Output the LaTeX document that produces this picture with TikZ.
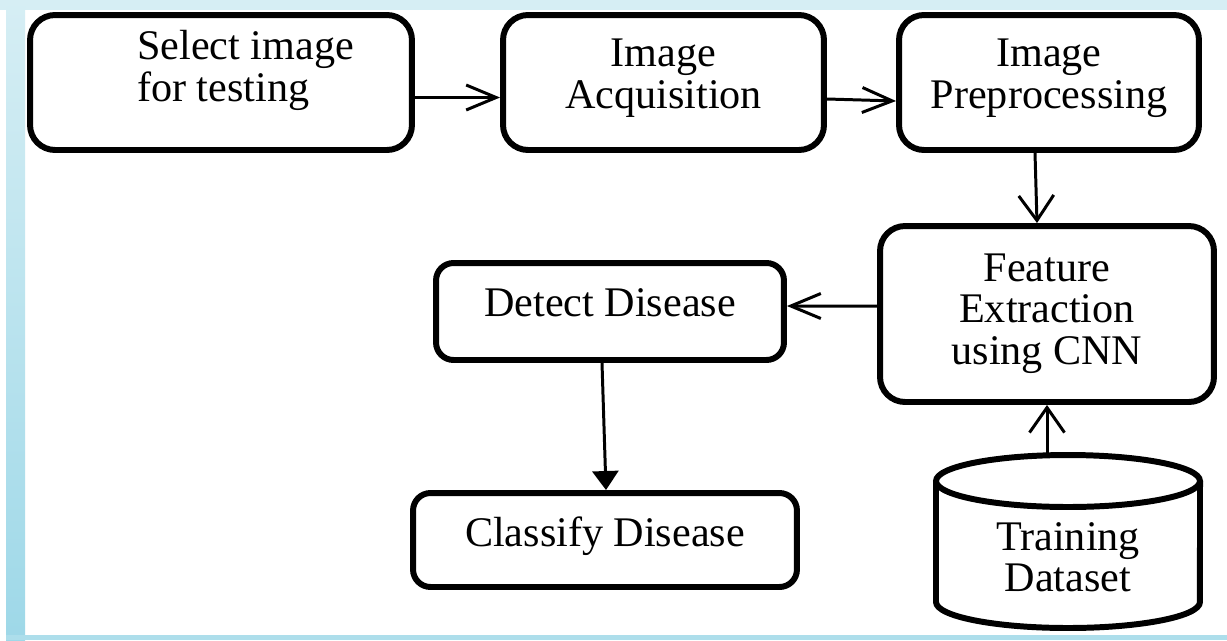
\documentclass[tikz,border=0pt]{standalone}
\usepackage{fontspec}
\setmainfont{Liberation Serif}
\usetikzlibrary{arrows.meta}
\definecolor{framelight}{HTML}{D6EEF4}
\definecolor{framedark}{HTML}{9ED8E8}

\begin{document}
\begin{tikzpicture}[x=0.02cm,y=-0.02cm]
        \tikzset{box/.style = {shape=rectangle,draw,line width=3.4pt,rounded corners=0.5cm,align=center,text depth=0.35cm,font=\fontsize{24}{23.5}\selectfont}}
        \tikzset{smallbox/.style = {box,rounded corners=0.35cm}}
        \tikzset{edge/.style = {-{Straight Barb[length=0.6cm,width=0.5cm]}, line width=1.7pt}}
        \tikzset{vedge/.style = {-{Straight Barb[length=0.5cm,width=0.7cm]}, line width=1.7pt}}
        % frame
        \useasboundingbox (0,0) rectangle (1227,640);
        \fill[white] (0,0) rectangle (1227,640);
        \fill[framelight] (0,0) rectangle (1227,10);
        \shade[top color=framelight, bottom color=framedark] (6,0) rectangle (25,640);
        \fill[framedark!85!white] (6,635) rectangle (1227,640);
        % vertices
        \node[box, minimum width=7.64cm, minimum height=2.7cm, align=left, text depth=0.67cm] (select) at (221,82.5) {\hspace*{0.98cm}Select image\\\hspace*{0.98cm}for testing};
        \node[box, minimum width=6.42cm, minimum height=2.7cm] (acq) at (663.5,82.5) {Image\\Acquisition};
        \node[box, minimum width=6.0cm, minimum height=2.7cm] (prep) at (1049,82.5) {Image\\Preprocessing};
        \node[box, minimum width=6.68cm, minimum height=3.52cm, text depth=0.2cm] (feat) at (1047,314) {Feature\\Extraction\\using CNN};
        \node[smallbox, minimum width=6.96cm, minimum height=1.94cm] (detect) at (610,311.5) {Detect Disease};
        \node[smallbox, minimum width=7.68cm, minimum height=1.88cm] (classify) at (605,540) {Classify Disease};
        % training data cylinder
        \draw[line width=3.4pt] (1068,481) ellipse [x radius=2.64cm, y radius=0.52cm];
        \draw[line width=3.4pt] (936,481) -- (936,602) arc [start angle=180, end angle=360, x radius=2.64cm, y radius=0.52cm] -- (1200,481);
        \node[align=center, font=\fontsize{24}{23.5}\selectfont] (data) at (1068,557) {Training\\Dataset};
        \coordinate (datatop) at (1068,453);
        %edges
        \draw[edge] ([yshift=-0.3cm]select.east) -- ([yshift=-0.3cm]acq.west);
        \draw[edge] ([yshift=-0.33cm]acq.east) -- ([yshift=-0.37cm]prep.west);
        \draw[vedge] ([xshift=-0.28cm]prep.south) -- ([xshift=-0.2cm]feat.north);
        \draw[edge] ([yshift=0.16cm]feat.west) -- ([yshift=0.11cm]detect.east);
        \draw[-{Triangle[length=0.38cm,width=0.52cm]}, line width=1.7pt] ([xshift=-0.16cm]detect.south) -- ([xshift=0.02cm]classify.north);
        \draw[vedge] (datatop -| feat.south) -- (feat.south);
\end{tikzpicture}
\end{document}
